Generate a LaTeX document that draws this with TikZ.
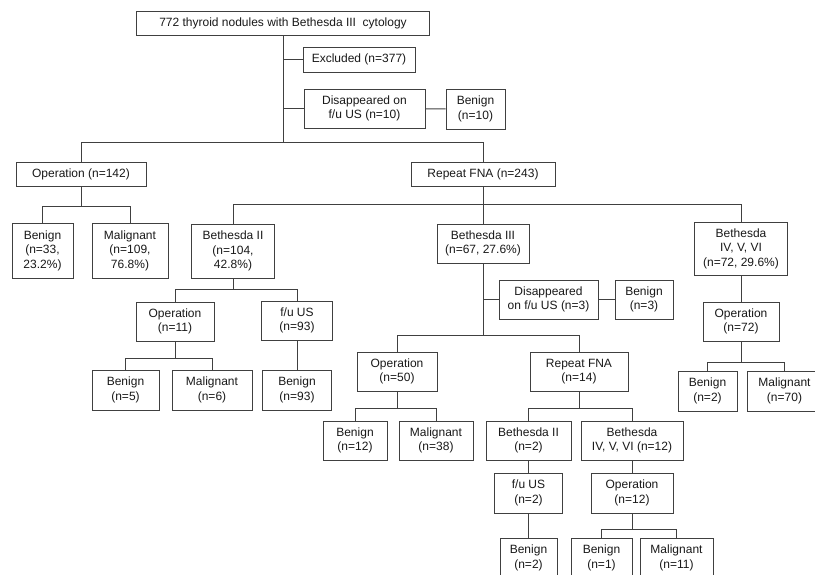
\documentclass[tikz,border=0pt]{standalone}
\usepackage{fontspec}
\setmainfont{Liberation Sans}
\usepackage{tikz}
\usetikzlibrary{positioning}
\definecolor{linegray}{RGB}{64,64,64}
\tikzstyle{box} = [rectangle, draw=linegray, fill=white, line width=1pt,
align=center, inner sep=1pt, text=black!90, font=\fontsize{12}{14.5}\selectfont]

\begin{document}
\begin{tikzpicture}[x=1pt,y=-1pt]

\tikzstyle{link} = [draw=linegray, line width=1pt]

\useasboundingbox (0,0) rectangle (815,574);
\clip (0,0) rectangle (815,574);

% first level
\node[box, minimum width=293, minimum height=24] (root) at (283,23) {772 thyroid nodules with Bethesda III~ cytology};
\node[box, minimum width=112, minimum height=25] (excl) at (359,59.5) {Excluded (n=377)};
\node[box, minimum width=121, minimum height=39] (dis1) at (364.5,108.5) {Disappeared on\\f/u US (n=10)};
\node[box, minimum width=59, minimum height=40] (ben10) at (475.5,109) {Benign\\(n=10)};

\node[box, minimum width=130, minimum height=24] (op142) at (81,174) {Operation (n=142)};
\node[box, minimum width=144, minimum height=24] (rep243) at (483,174) {Repeat FNA (n=243)};

% operation
\node[box, minimum width=61, minimum height=55] (ben33) at (42.5,250.5) {Benign\\(n=33,\\23.2\%)};
\node[box, minimum width=76, minimum height=55] (mal109) at (130,250.5) {Malignant\\(n=109,\\76.8\%)};

% repeat FNA
\node[box, minimum width=83, minimum height=54] (beth2) at (233,251) {Bethesda II\\(n=104,\\42.8\%)};
\node[box, minimum width=92, minimum height=39] (beth3) at (483,243.5) {Bethesda III\\(n=67, 27.6\%)};
\node[box, minimum width=93, minimum height=53] (beth4) at (741,248.5) {Bethesda\\IV, V, VI\\(n=72, 29.6\%)};

\node[box, minimum width=78, minimum height=39] (op11) at (175,321.5) {Operation\\(n=11)};
\node[box, minimum width=71, minimum height=39] (fu93) at (297,320.5) {f/u US\\(n=93)};
\node[box, minimum width=67, minimum height=40] (ben5) at (125.5,390) {Benign\\(n=5)};
\node[box, minimum width=80, minimum height=40] (mal6) at (212,390) {Malignant\\(n=6)};
\node[box, minimum width=69, minimum height=40] (ben93) at (297,390) {Benign\\(n=93)};

\node[box, minimum width=99, minimum height=39] (dis3) at (548.5,299.5) {Disappeared\\on f/u US (n=3)};
\node[box, minimum width=58, minimum height=39] (ben3) at (644,299.5) {Benign\\(n=3)};
\node[box, minimum width=80, minimum height=39] (op50) at (397,371.5) {Operation\\(n=50)};
\node[box, minimum width=98, minimum height=39] (rep14) at (579,371.5) {Repeat FNA\\(n=14)};
\node[box, minimum width=64, minimum height=39] (ben12) at (355,440.5) {Benign\\(n=12)};
\node[box, minimum width=74, minimum height=39] (mal38) at (436,440.5) {Malignant\\(n=38)};
\node[box, minimum width=85, minimum height=39] (beth2b) at (528.5,440.5) {Bethesda II\\(n=2)};
\node[box, minimum width=102, minimum height=39] (beth4b) at (632,440.5) {Bethesda\\IV, V, VI (n=12)};
\node[box, minimum width=68, minimum height=40] (fu2) at (528.5,493) {f/u US\\(n=2)};
\node[box, minimum width=82, minimum height=40] (op12) at (632,493) {Operation\\(n=12)};
\node[box, minimum width=57, minimum height=40] (ben2b) at (528.5,558) {Benign\\(n=2)};
\node[box, minimum width=61, minimum height=40] (ben1) at (601.5,558) {Benign\\(n=1)};
\node[box, minimum width=73, minimum height=40] (mal11) at (676.5,558) {Malignant\\(n=11)};

\node[box, minimum width=76, minimum height=39] (op72) at (741,321.5) {Operation\\(n=72)};
\node[box, minimum width=59, minimum height=40] (ben2r) at (707.5,391) {Benign\\(n=2)};
\node[box, minimum width=75, minimum height=40] (mal70) at (784.5,391) {Malignant\\(n=70)};

% junctions
\coordinate (j0) at (283,142);
\coordinate (j1) at (81,206);
\coordinate (j2) at (483,204);
\coordinate (j3) at (233,289);
\coordinate (j4) at (175,358);
\coordinate (j5) at (483,335);
\coordinate (j6) at (397,408);
\coordinate (j7) at (579,408);
\coordinate (j8) at (632,529);
\coordinate (j9) at (741,362);

\draw[link] (root) -- (j0);
\draw[link] (excl.west) -- (excl.west -| root);
\draw[link] (dis1.west) -- (dis1.west -| root);
\draw[link] (dis1) -- (ben10);
\draw[link] (j0) -| (op142);
\draw[link] (j0) -| (rep243);

\draw[link] (op142) -- (j1);
\draw[link] (j1) -| (ben33);
\draw[link] (j1) -| (mal109);

\draw[link] (rep243) -- (beth3);
\draw[link] (j2) -| (beth2);
\draw[link] (j2) -| (beth4);

\draw[link] (beth2) -- (j3);
\draw[link] (j3) -| (op11);
\draw[link] (j3) -| (fu93);
\draw[link] (op11) -- (j4);
\draw[link] (j4) -| (ben5);
\draw[link] (j4) -| (mal6);
\draw[link] (fu93) -- (ben93);

\draw[link] (beth3) -- (j5);
\draw[link] (dis3.west) -- (dis3.west -| beth3);
\draw[link] (dis3) -- (ben3);
\draw[link] (j5) -| (op50);
\draw[link] (j5) -| (rep14);
\draw[link] (op50) -- (j6);
\draw[link] (j6) -| (ben12);
\draw[link] (j6) -| (mal38);
\draw[link] (rep14) -- (j7);
\draw[link] (j7) -| (beth2b);
\draw[link] (j7) -| (beth4b);
\draw[link] (beth2b) -- (fu2);
\draw[link] (fu2) -- (ben2b);
\draw[link] (beth4b) -- (op12);
\draw[link] (op12) -- (j8);
\draw[link] (j8) -| (ben1);
\draw[link] (j8) -| (mal11);

\draw[link] (beth4) -- (op72);
\draw[link] (op72) -- (j9);
\draw[link] (j9) -| (ben2r);
\draw[link] (j9) -| (mal70);

\end{tikzpicture}
\end{document}
